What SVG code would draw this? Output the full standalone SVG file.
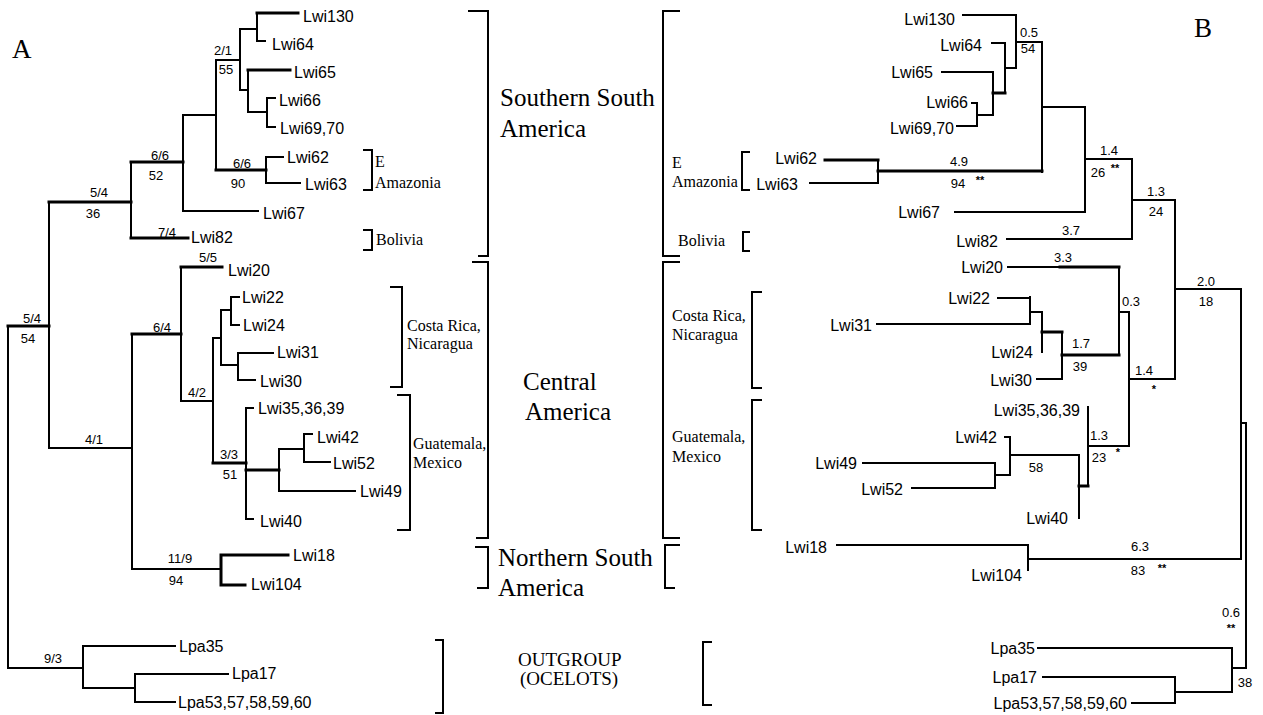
<svg xmlns="http://www.w3.org/2000/svg" width="1263" height="715" viewBox="0 0 1263 715">
<style>
.bg{fill:#fff}
.br{fill:none;stroke:#000;stroke-width:2;stroke-linecap:square}
.bt{fill:none;stroke:#000;stroke-width:3;stroke-linecap:square}
.bk{fill:none;stroke:#000;stroke-width:2}
.tip{font-family:"Liberation Sans",Arial,sans-serif;font-size:16px;fill:#000}
.tipr{font-family:"Liberation Sans",Arial,sans-serif;font-size:16px;fill:#000;text-anchor:end}
.num{font-family:"Liberation Sans",Arial,sans-serif;font-size:13px;fill:#000;text-anchor:middle}
.star{font-family:"Liberation Sans",Arial,sans-serif;font-size:11px;font-weight:bold;fill:#000;text-anchor:middle}
.reg{font-family:"Liberation Serif","Times New Roman",serif;font-size:25px;fill:#000}
.out{font-family:"Liberation Serif","Times New Roman",serif;font-size:19px;fill:#000}
.sub{font-family:"Liberation Serif","Times New Roman",serif;font-size:16px;fill:#000}
.pan{font-family:"Liberation Serif","Times New Roman",serif;font-size:27px;fill:#000}
</style>
<rect class="bg" x="0" y="0" width="1263" height="715"/>
<text class="pan" x="12" y="58">A</text>
<text class="pan" x="1194" y="37">B</text>

<g id="connectors">
<g id="treeA">
<path class="bt" d="M257 13 H298"/>
<path class="br" d="M257 41 H265 M257 13 V41 M240 29 H257 M240 29 V90 M240 90 H248 M248 70 V112 M248 112 H267 M267 98 V127 M267 98 H275 M267 127 H275"/>
<path class="bt" d="M248 70 H290"/>
<path class="br" d="M216 60 H240 M216 60 V170 M266 157 V183 M266 157 H283 M266 183 H300 M183 115 H216 M183 115 V211 M183 211 H258 M131 162 V238 M49 202 V448 M49 448 H132 M132 334 V569"/>
<path class="bt" d="M216 170 H266 M131 162 H183 M131 238 H188 M49 202 H131 M8 326 H49 M132 334 H181 M181 267 H222"/>
<path class="br" d="M181 267 V401 M181 401 H213 M213 338 V463 M213 338 H221 M221 310 V365 M221 310 H231 M231 297 V325 M231 297 H239 M231 325 H239 M221 365 H238 M238 353 V380 M238 353 H273 M238 380 H255"/>
<path class="bt" d="M213 463 H246 M246 470 H279"/>
<path class="br" d="M246 408 V519 M246 408 H253 M246 519 H253 M279 449 V491 M279 449 H304 M304 434 V462 M304 434 H312 M304 462 H330 M279 491 H355 M132 569 H221"/>
<path class="bt" d="M221 555 V585 M221 555 H288 M221 585 H245"/>
<path class="br" d="M8 326 V668 M8 668 H83 M83 646 V688 M83 646 H175 M83 688 H135 M135 674 V702 M135 674 H228 M135 702 H175"/>
</g>
<g id="treeB">
<path class="br" d="M963 15 H1016 M1016 15 V68 M1005 68 H1016 M992 43 H1005 M1005 43 V93 M942 72 H993 M993 72 V115 M977 115 H993 M977 103 V126 M972 103 H977 M957 126 H977"/>
<path class="bt" d="M993 93 H1005"/>
<path class="br" d="M1016 42 H1042 M1042 42 V172 M878 160 V183 M810 183 H878 M1042 107 H1085 M1085 107 V212 M955 212 H1085 M1085 159 H1132 M1132 159 V239 M1007 239 H1132 M1132 200 H1175 M1175 200 V379 M1175 289 H1241 M1241 289 V559 M1129 379 H1175 M1129 312 V446 M1119 312 H1129 M1119 267 V355 M1008 267 H1060"/>
<path class="bt" d="M878 171 H1042 M825 160 H878 M1060 267 H1119 M1062 355 H1119 M1042 332 H1062"/>
<path class="br" d="M1062 332 V379 M1037 379 H1062 M1042 312 V352 M1030 312 H1042 M1030 297 V324 M998 298 H1030 M877 324 H1030"/>
<path class="br" d="M1088 446 H1129 M1088 407 V486 M1079 455 V518 M1010 455 H1079 M1010 437 V475 M1005 437 H1010 M995 475 H1010 M995 463 V488 M863 463 H995 M912 488 H995"/>
<path class="bt" d="M1079 486 H1088"/>
<path class="br" d="M837 545 H1028 M1028 545 V570 M1028 559 H1241 M1241 423 H1246 M1246 423 V668 M1232 668 H1246 M1232 648 V692 M1038 648 H1232 M1175 692 H1232 M1175 677 V703 M1043 677 H1175 M1132 703 H1175"/>
</g>
</g>

<g id="brackets">
<path class="bk" d="M468 11 H488 V256 H478"/>
<path class="bk" d="M472 262 H488 V538 H476"/>
<path class="bk" d="M475 547 H488 V588 H477"/>
<path class="bk" d="M435 640 H443 V713 H435"/>
<path class="bk" d="M363 150 H372 V190 H363"/>
<path class="bk" d="M363 230 H372 V250 H363"/>
<path class="bk" d="M390 287 H402 V387 H390"/>
<path class="bk" d="M397 395 H410 V530 H397"/>
<path class="bk" d="M680 11 H663 V256 H680"/>
<path class="bk" d="M680 262 H663 V538 H680"/>
<path class="bk" d="M680 545 H665 V588 H675"/>
<path class="bk" d="M712 642 H703 V705 H712"/>
<path class="bk" d="M750 152 H742 V190 H750"/>
<path class="bk" d="M750 232 H743 V251 H750"/>
<path class="bk" d="M762 292 H752 V388 H762"/>
<path class="bk" d="M762 400 H752 V530 H762"/>
</g>

<g id="regions">
<text class="reg" x="500" y="106">Southern South</text>
<text class="reg" x="500" y="137">America</text>
<text class="reg" x="523" y="390">Central</text>
<text class="reg" x="525" y="420">America</text>
<text class="reg" x="498" y="566">Northern South</text>
<text class="reg" x="498" y="596">America</text>
<text class="out" x="518" y="666">OUTGROUP</text>
<text class="out" x="520" y="685">(OCELOTS)</text>
<text class="sub" x="375" y="167">E</text>
<text class="sub" x="375" y="188">Amazonia</text>
<text class="sub" x="376" y="245">Bolivia</text>
<text class="sub" x="407" y="331">Costa Rica,</text>
<text class="sub" x="407" y="349">Nicaragua</text>
<text class="sub" x="413" y="449">Guatemala,</text>
<text class="sub" x="413" y="468">Mexico</text>
<text class="sub" x="672" y="168">E</text>
<text class="sub" x="672" y="187">Amazonia</text>
<text class="sub" x="678" y="246">Bolivia</text>
<text class="sub" x="672" y="321">Costa Rica,</text>
<text class="sub" x="672" y="340">Nicaragua</text>
<text class="sub" x="672" y="442">Guatemala,</text>
<text class="sub" x="672" y="462">Mexico</text>
</g>

<g id="tipsA">
<g id="A-Lwi130"><text class="tip" x="303" y="22">Lwi130</text></g>
<g id="A-Lwi64"><text class="tip" x="272" y="50">Lwi64</text></g>
<g id="A-Lwi65"><text class="tip" x="294" y="78">Lwi65</text></g>
<g id="A-Lwi66"><text class="tip" x="279" y="106">Lwi66</text></g>
<g id="A-Lwi69"><text class="tip" x="280" y="134">Lwi69,70</text></g>
<g id="A-Lwi62"><text class="tip" x="287" y="163">Lwi62</text></g>
<g id="A-Lwi63"><text class="tip" x="305" y="190">Lwi63</text></g>
<g id="A-Lwi67"><text class="tip" x="263" y="219">Lwi67</text></g>
<g id="A-Lwi82"><text class="tip" x="191" y="243">Lwi82</text></g>
<g id="A-Lwi20"><text class="tip" x="228" y="276">Lwi20</text></g>
<g id="A-Lwi22"><text class="tip" x="242" y="303">Lwi22</text></g>
<g id="A-Lwi24"><text class="tip" x="243" y="331">Lwi24</text></g>
<g id="A-Lwi31"><text class="tip" x="277" y="358">Lwi31</text></g>
<g id="A-Lwi30"><text class="tip" x="260" y="387">Lwi30</text></g>
<g id="A-Lwi35"><text class="tip" x="258" y="414">Lwi35,36,39</text></g>
<g id="A-Lwi42"><text class="tip" x="317" y="443">Lwi42</text></g>
<g id="A-Lwi52"><text class="tip" x="333" y="469">Lwi52</text></g>
<g id="A-Lwi49"><text class="tip" x="360" y="497">Lwi49</text></g>
<g id="A-Lwi40"><text class="tip" x="260" y="527">Lwi40</text></g>
<g id="A-Lwi18"><text class="tip" x="293" y="561">Lwi18</text></g>
<g id="A-Lwi104"><text class="tip" x="251" y="590">Lwi104</text></g>
<g id="A-Lpa35"><text class="tip" x="179" y="652">Lpa35</text></g>
<g id="A-Lpa17"><text class="tip" x="232" y="679">Lpa17</text></g>
<g id="A-Lpa53"><text class="tip" x="178" y="708">Lpa53,57,58,59,60</text></g>
</g>

<g id="labelsA">
<text class="num" x="223" y="55">2/1</text>
<text class="num" x="226" y="74">55</text>
<text class="num" x="160" y="160">6/6</text>
<text class="num" x="156" y="180">52</text>
<text class="num" x="242" y="168">6/6</text>
<text class="num" x="238" y="188">90</text>
<text class="num" x="99" y="197">5/4</text>
<text class="num" x="93" y="218">36</text>
<text class="num" x="167" y="237">7/4</text>
<text class="num" x="208" y="262">5/5</text>
<text class="num" x="32" y="323">5/4</text>
<text class="num" x="28" y="343">54</text>
<text class="num" x="162" y="332">6/4</text>
<text class="num" x="197" y="397">4/2</text>
<text class="num" x="94" y="444">4/1</text>
<text class="num" x="229" y="459">3/3</text>
<text class="num" x="230" y="479">51</text>
<text class="num" x="180" y="563">11/9</text>
<text class="num" x="176" y="585">94</text>
<text class="num" x="53" y="663">9/3</text>
</g>

<g id="tipsB">
<g id="B-Lwi130"><text class="tipr" x="955" y="25">Lwi130</text></g>
<g id="B-Lwi64"><text class="tipr" x="982" y="51">Lwi64</text></g>
<g id="B-Lwi65"><text class="tipr" x="933" y="78">Lwi65</text></g>
<g id="B-Lwi66"><text class="tipr" x="968" y="108">Lwi66</text></g>
<g id="B-Lwi69"><text class="tipr" x="954" y="134">Lwi69,70</text></g>
<g id="B-Lwi62"><text class="tipr" x="817" y="164">Lwi62</text></g>
<g id="B-Lwi63"><text class="tipr" x="798" y="190">Lwi63</text></g>
<g id="B-Lwi67"><text class="tipr" x="940" y="218">Lwi67</text></g>
<g id="B-Lwi82"><text class="tipr" x="998" y="247">Lwi82</text></g>
<g id="B-Lwi20"><text class="tipr" x="1003" y="273">Lwi20</text></g>
<g id="B-Lwi22"><text class="tipr" x="990" y="304">Lwi22</text></g>
<g id="B-Lwi31"><text class="tipr" x="872" y="331">Lwi31</text></g>
<g id="B-Lwi24"><text class="tipr" x="1033" y="358">Lwi24</text></g>
<g id="B-Lwi30"><text class="tipr" x="1032" y="386">Lwi30</text></g>
<g id="B-Lwi35"><text class="tipr" x="1080" y="416">Lwi35,36,39</text></g>
<g id="B-Lwi42"><text class="tipr" x="997" y="443">Lwi42</text></g>
<g id="B-Lwi49"><text class="tipr" x="857" y="469">Lwi49</text></g>
<g id="B-Lwi52"><text class="tipr" x="903" y="495">Lwi52</text></g>
<g id="B-Lwi40"><text class="tipr" x="1068" y="524">Lwi40</text></g>
<g id="B-Lwi18"><text class="tipr" x="827" y="553">Lwi18</text></g>
<g id="B-Lwi104"><text class="tipr" x="1022" y="581">Lwi104</text></g>
<g id="B-Lpa35"><text class="tipr" x="1035" y="654">Lpa35</text></g>
<g id="B-Lpa17"><text class="tipr" x="1037" y="683">Lpa17</text></g>
<g id="B-Lpa53"><text class="tipr" x="1127" y="709">Lpa53,57,58,59,60</text></g>
</g>

<g id="labelsB">
<text class="num" x="1029" y="37">0.5</text>
<text class="num" x="1028" y="53">54</text>
<text class="num" x="959" y="166">4.9</text>
<text class="num" x="958" y="188">94</text>
<text class="star" x="980" y="184">**</text>
<text class="num" x="1109" y="155">1.4</text>
<text class="num" x="1098" y="177">26</text>
<text class="star" x="1115" y="172">**</text>
<text class="num" x="1156" y="196">1.3</text>
<text class="num" x="1156" y="216">24</text>
<text class="num" x="1071" y="235">3.7</text>
<text class="num" x="1063" y="262">3.3</text>
<text class="num" x="1206" y="286">2.0</text>
<text class="num" x="1206" y="306">18</text>
<text class="num" x="1131" y="306">0.3</text>
<text class="num" x="1081" y="348">1.7</text>
<text class="num" x="1080" y="371">39</text>
<text class="num" x="1144" y="375">1.4</text>
<text class="star" x="1154" y="393">*</text>
<text class="num" x="1099" y="440">1.3</text>
<text class="num" x="1099" y="462">23</text>
<text class="star" x="1118" y="456">*</text>
<text class="num" x="1036" y="472">58</text>
<text class="num" x="1140" y="551">6.3</text>
<text class="num" x="1138" y="575">83</text>
<text class="star" x="1162" y="572">**</text>
<text class="num" x="1231" y="617">0.6</text>
<text class="star" x="1231" y="632">**</text>
<text class="num" x="1245" y="687">38</text>
</g>
</svg>
